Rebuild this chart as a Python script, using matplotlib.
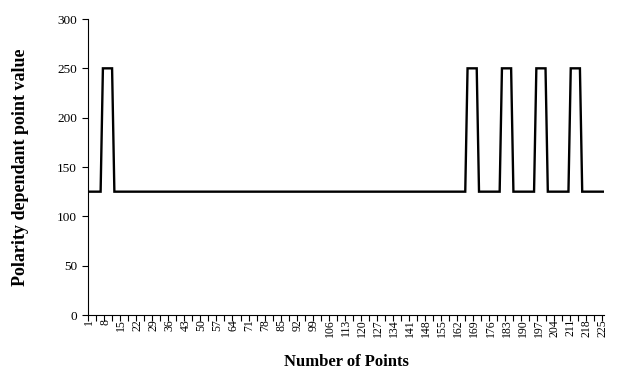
import matplotlib
matplotlib.use('Agg')
import matplotlib.pyplot as plt
import numpy as np

# point index 1..225, value depends on polarity (125 low, 250 high)
n_points = 225
low_value = 125
high_value = 250
high_ranges = [(7, 11), (166, 170), (181, 185), (196, 200), (211, 215)]

points = list(range(1, n_points + 1))
values = [high_value if any(a <= p <= b for a, b in high_ranges) else low_value
          for p in points]

xtick_labels = list(range(1, n_points + 1, 7))
yticks = [0, 50, 100, 150, 200, 250, 300]

plt.rcParams['font.family'] = ['Liberation Serif', 'DejaVu Serif']

fig = plt.figure(figsize=(6.18, 3.72), dpi=100)
ax = fig.add_axes([88 / 618, 57 / 372, 516 / 618, 296 / 372])

ax.plot(points, values, color='black', lw=1.7, solid_joinstyle='miter')

ax.set_xlim(0.5, n_points + 0.5)
ax.set_ylim(0, 300)

ax.set_xticks(xtick_labels)
ax.set_xticklabels([str(v) for v in xtick_labels], rotation=90, fontsize=8.5)
ax.tick_params(axis='x', which='major', length=0, pad=3)
ax.set_xticks(np.arange(0.5, n_points + 1, 3.5), minor=True)
ax.tick_params(axis='x', which='minor', length=4, width=0.8, direction='out')

ax.set_yticks(yticks)
ax.set_yticklabels([str(v) for v in yticks], fontsize=9.5)
ax.tick_params(axis='y', length=4, width=0.8, direction='out', pad=4)

for side in ['top', 'right']:
    ax.spines[side].set_visible(False)
for side in ['left', 'bottom']:
    ax.spines[side].set_linewidth(0.8)

ax.set_xlabel('Number of Points', fontsize=12, fontweight='bold', labelpad=12)
ax.set_ylabel('Polarity dependant point value', fontsize=13, fontweight='bold', labelpad=20)

fig.savefig('out.png', dpi=100)
plt.close(fig)
